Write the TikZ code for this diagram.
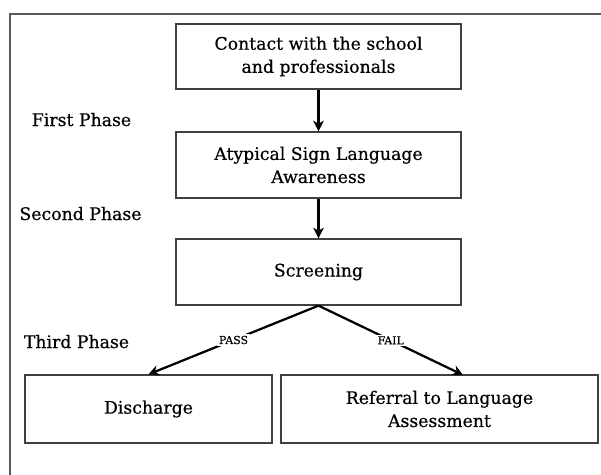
\documentclass[tikz,border=0pt]{standalone}
\usepackage{fontspec}
\setmainfont{DejaVu Serif}[FakeBold=0.5,AutoFakeBold=0.5]
\usetikzlibrary{positioning,arrows.meta}
\tikzset{
 box/.style={draw=black!75,line width=0.9pt,text=black,align=center,
  font=\fontsize{12.3}{16.4}\selectfont\bfseries},
 phase/.style={anchor=base,text=black,font=\fontsize{12.3}{16.4}\selectfont\bfseries},
 flow/.style={line width=2pt,-{Stealth[length=7.5pt,width=7.5pt,inset=2pt]}},
 branch/.style={line width=1.6pt,-{Stealth[length=7.5pt,width=7.5pt,inset=2.5pt]}},
 tag/.style={midway,fill=white,inner sep=1.2pt,text=black,font=\fontsize{7.8}{9}\selectfont\bfseries}
}
\begin{document}
\begin{tikzpicture}[x=0.025cm,y=-0.025cm]
 \useasboundingbox (0,0) rectangle (601,475);
 % frame
 \draw[black!65,line width=1pt] (601,14) -- (10,14) -- (10,475);

 \node[box,minimum width=7.12cm,minimum height=1.63cm] (contact) at (318.5,56.5)
  {Contact with the school\\and professionals};
 \node[box,minimum width=7.12cm,minimum height=1.65cm] (aware) at (318.5,165)
  {Atypical Sign Language\\Awareness};
 \node[box,minimum width=7.12cm,minimum height=1.65cm] (screen) at (318.5,272)
  {Screening};
 \node[box,minimum width=6.17cm,minimum height=1.7cm] (discharge) at (148.5,409)
  {Discharge};
 \node[box,minimum width=7.92cm,minimum height=1.7cm] (referral) at (439.5,409)
  {Referral to Language\\Assessment};

 \node[phase] (first) at (81.5,126) {First Phase};
 \node[phase] (second) at (80.5,220) {Second Phase};
 \node[phase] (third) at (76.5,348) {Third Phase};

 \coordinate (failend) at (463,375);
 \draw[flow] (contact) -- (aware);
 \draw[flow] (aware) -- (screen);
 \draw[branch] (screen.south) -- node[tag]{PASS} (discharge.north);
 \draw[branch] (screen.south) -- node[tag]{FAIL} (failend);
\end{tikzpicture}
\end{document}
